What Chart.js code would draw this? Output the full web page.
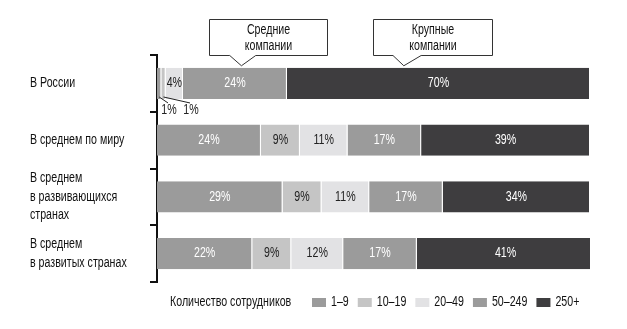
<!DOCTYPE html>
<html>
<head>
<meta charset="utf-8">
<script src="https://cdn.jsdelivr.net/npm/chart.js@4"></script>
<style>
  html, body { margin: 0; padding: 0; background: #fff; }
  #wrap { width: 627px; height: 329px; }
</style>
</head>
<body>
<div id="wrap"><canvas id="chart" width="627" height="329"></canvas></div>
<script>
const regions = [
  'В России',
  'В среднем по миру',
  ['В среднем', 'в развивающихся', 'странах'],
  ['В среднем', 'в развитых странах']
];
const sizeGroups = ['1–9', '10–19', '20–49', '50–249', '250+'];
const small = [1, 24, 29, 22];
const lower = [1, 9, 9, 9];
const middle = [4, 11, 11, 12];
const medium = [24, 17, 17, 17];
const large = [70, 39, 34, 41];
const legendTitle = 'Количество сотрудников';

const FONT = "14px 'Liberation Sans', Arial, sans-serif";
const NARROW = 0.76; // squeeze text horizontally, like a condensed face
const fills = ['#9b9b9b', '#c5c5c5', '#e2e2e4', '#9b9b9b', '#3e3d3f'];
const inkColors = ['#fff', '#222', '#222', '#fff', '#fff'];

const series = [small, lower, middle, medium, large];
const datasets = series.map((vals, i) => ({
  label: sizeGroups[i],
  data: vals,
  backgroundColor: fills[i],
  borderColor: '#fff',
  borderWidth: { left: 0, right: 1, top: 0, bottom: 0 },
  borderSkipped: false,
  categoryPercentage: 1,
  barPercentage: 0.55
}));

// callout boxes above the Russia bar, positions in % of the x scale
const callouts = [
  { lines: ['Средние', 'компании'], from: 12, to: 39.3, base: [16.8, 22.8], tip: 19.5 },
  { lines: ['Крупные', 'компании'], from: 49.9, to: 77.4, base: [54.5, 61], tip: 57 }
];

function narrowText(ctx, str, x, y, align) {
  ctx.save();
  ctx.translate(x, y);
  ctx.scale(NARROW, 1);
  ctx.textAlign = align || 'center';
  ctx.fillText(str, 0, 0);
  ctx.restore();
}

const annotate = {
  id: 'annotate',
  afterDatasetsDraw(chart) {
    const ctx = chart.ctx;
    const xs = chart.scales.x;
    const ys = chart.scales.y;
    ctx.save();
    ctx.font = FONT;
    ctx.textBaseline = 'middle';

    // category labels, left aligned
    ctx.fillStyle = '#111';
    chart.data.labels.forEach((lab, row) => {
      const lines = [].concat(lab);
      const cy = ys.getPixelForValue(row);
      const lh = 18.5;
      lines.forEach((ln, j) => {
        narrowText(ctx, ln, 30, cy + (j - (lines.length - 1) / 2) * lh, 'left');
      });
    });

    // value labels
    chart.data.labels.forEach((lab, row) => {
      let k = 0;
      chart.data.datasets.forEach((ds, di) => {
        const el = chart.getDatasetMeta(di).data[row];
        const v = ds.data[row];
        const txt = v + '%';
        if (v >= 3) {
          ctx.fillStyle = inkColors[di];
          narrowText(ctx, txt, (el.x + el.base) / 2, el.y);
        } else {
          // tiny segments get a label under the bar with a leader line
          const cx = (el.x + el.base) / 2;
          const lx = xs.left + 12 + k * 22;
          const ly = el.y + el.height / 2 + 11;
          ctx.strokeStyle = '#222';
          ctx.lineWidth = 1;
          ctx.beginPath();
          ctx.moveTo(cx, el.y + el.height / 2 - 2);
          ctx.lineTo(lx - 1, ly - 7);
          ctx.stroke();
          ctx.fillStyle = '#222';
          narrowText(ctx, txt, lx, ly);
          k++;
        }
      });
    });

    // callouts
    const topBar = chart.getDatasetMeta(0).data[0];
    const tipY = topBar.y - topBar.height / 2 - 2;
    callouts.forEach(c => {
      const x0 = Math.round(xs.getPixelForValue(c.from)) + 0.5;
      const x1 = Math.round(xs.getPixelForValue(c.to)) + 0.5;
      const y0 = 19.5, y1 = 55.5;
      const b0 = xs.getPixelForValue(c.base[0]);
      const b1 = xs.getPixelForValue(c.base[1]);
      const t = xs.getPixelForValue(c.tip);
      ctx.beginPath();
      ctx.moveTo(x0, y0);
      ctx.lineTo(x1, y0);
      ctx.lineTo(x1, y1);
      ctx.lineTo(b1, y1);
      ctx.lineTo(t, tipY);
      ctx.lineTo(b0, y1);
      ctx.lineTo(x0, y1);
      ctx.closePath();
      ctx.fillStyle = '#fff';
      ctx.fill();
      ctx.strokeStyle = '#333';
      ctx.lineWidth = 1;
      ctx.stroke();
      ctx.fillStyle = '#111';
      const cx = (x0 + x1) / 2;
      narrowText(ctx, c.lines[0], cx, 30);
      narrowText(ctx, c.lines[1], cx, 46);
    });

    // legend row
    const ly = 302;
    ctx.fillStyle = '#111';
    narrowText(ctx, legendTitle, 170, ly, 'left');
    let x = 312;
    chart.data.datasets.forEach(ds => {
      ctx.fillStyle = ds.backgroundColor;
      ctx.fillRect(x, ly - 4, 14, 9);
      ctx.fillStyle = '#111';
      narrowText(ctx, ds.label, x + 19, ly, 'left');
      x += 19 + ctx.measureText(ds.label).width * NARROW + 9;
    });
    ctx.restore();
  }
};

new Chart(document.getElementById('chart'), {
  type: 'bar',
  data: { labels: regions, datasets: datasets },
  options: {
    indexAxis: 'y',
    responsive: false,
    animation: false,
    layout: { padding: { left: 30, top: 55, right: 37, bottom: 47 } },
    plugins: { legend: { display: false }, tooltip: { enabled: false } },
    scales: {
      x: { stacked: true, min: 0, max: 100, display: false },
      y: {
        stacked: true,
        grid: { offset: true, drawOnChartArea: false, tickLength: 7, color: '#111', lineWidth: 2 },
        border: { color: '#111', width: 2 },
        ticks: { display: false, autoSkip: false },
        afterFit: s => { s.width = 127; }
      }
    }
  },
  plugins: [annotate]
});
</script>
</body>
</html>
